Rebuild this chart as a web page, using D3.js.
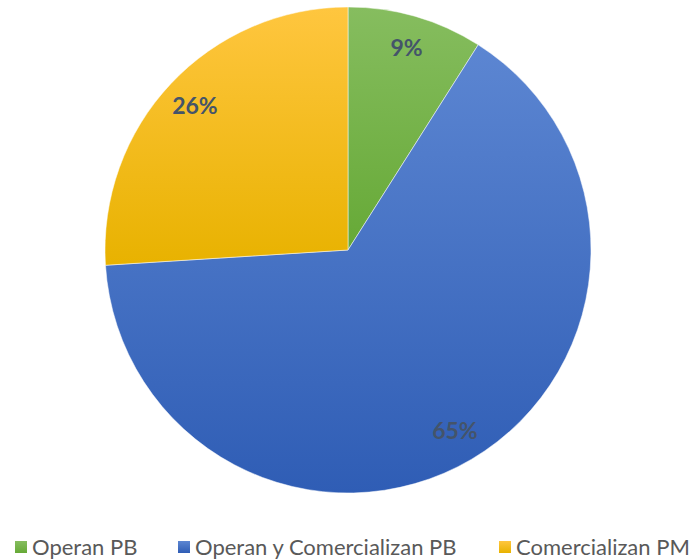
<!DOCTYPE html>
<html>
<head>
<meta charset="utf-8">
<script src="https://cdn.jsdelivr.net/npm/d3@7"></script>
<style>
  body { margin: 0; background: #fff; }
  svg { display: block; font-family: Lato, "Liberation Sans", "Noto Sans", sans-serif; }
</style>
</head>
<body>
<svg id="chart" width="693" height="560"></svg>
<script>
var categories = ["Operan PB", "Operan y Comercializan PB", "Comercializan PM"];
var values = [9, 65, 26];
var labels = ["9%", "65%", "26%"];

var colorsTop = ["#86bd5f", "#5c86d2", "#ffc63f"];
var colorsBottom = ["#66a936", "#2f5db5", "#e8b200"];

var width = 693, height = 560;
var cx = 348, cy = 250, radius = 243;

var svg = d3.select("#chart");
var defs = svg.append("defs");

// vertical gradient per slice, lighter on top
categories.forEach(function(c, i) {
  var g = defs.append("linearGradient")
      .attr("id", "grad" + i)
      .attr("x1", 0).attr("y1", 0).attr("x2", 0).attr("y2", 1);
  g.append("stop").attr("offset", "0%").attr("stop-color", colorsTop[i]);
  g.append("stop").attr("offset", "100%").attr("stop-color", colorsBottom[i]);
});

var pie = d3.pie().sort(null).value(function(d) { return d; });
var arcs = pie(values);

var arc = d3.arc().innerRadius(0).outerRadius(radius);
var labelArc = d3.arc().innerRadius(210).outerRadius(210);

var g = svg.append("g")
    .attr("transform", "translate(" + cx + "," + cy + ")");

g.selectAll("path")
    .data(arcs)
  .enter().append("path")
    .attr("d", arc)
    .attr("fill", function(d, i) { return "url(#grad" + i + ")"; })
    .attr("stroke", "#fff")
    .attr("stroke-width", 0.5);

g.selectAll("text.lbl")
    .data(arcs)
  .enter().append("text")
    .attr("class", "lbl")
    .attr("transform", function(d) { return "translate(" + labelArc.centroid(d) + ")"; })
    .attr("text-anchor", "middle")
    .attr("dy", "0.35em")
    .attr("font-size", 23)
    .attr("font-weight", "bold")
    .attr("fill", "#44546a")
    .text(function(d, i) { return labels[i]; });

// legend
var legendX = [15, 178, 499];
var legend = svg.append("g").attr("class", "legend");
var item = legend.selectAll("g")
    .data(categories)
  .enter().append("g")
    .attr("transform", function(d, i) { return "translate(" + legendX[i] + ",547)"; });

item.append("rect")
    .attr("x", 0).attr("y", -6)
    .attr("width", 12).attr("height", 12)
    .attr("fill", function(d, i) { return "url(#grad" + i + ")"; });

item.append("text")
    .attr("x", 17)
    .attr("dy", "0.35em")
    .attr("font-size", 22)
    .attr("fill", "#595959")
    .text(function(d) { return d; });
</script>
</body>
</html>
